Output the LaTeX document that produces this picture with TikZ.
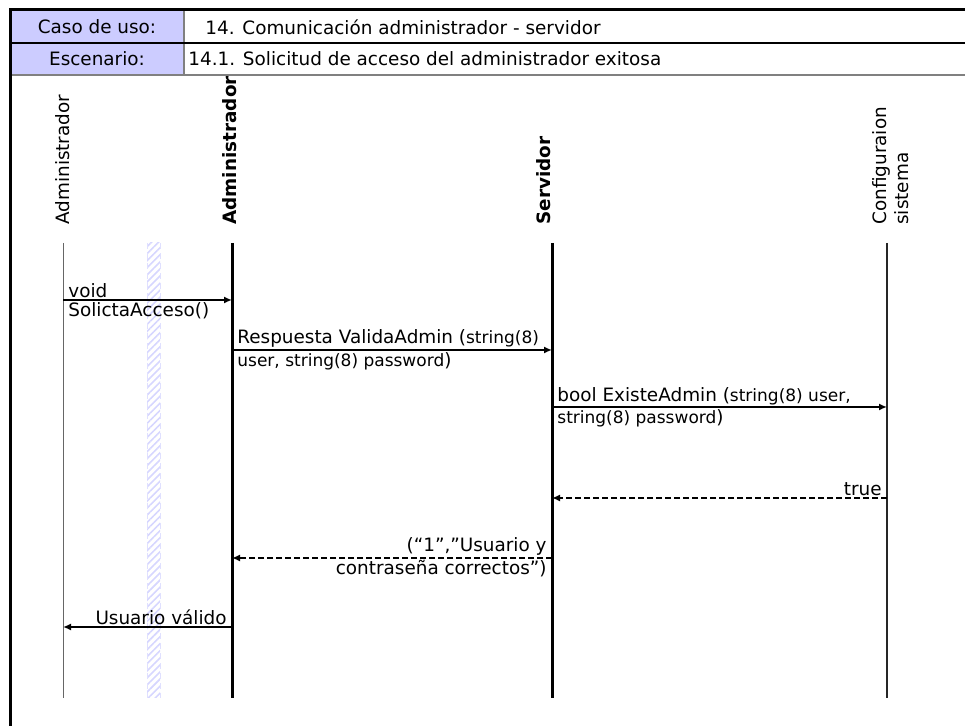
\documentclass[tikz,border=0pt]{standalone}
\usepackage{fontspec}
\setmainfont{DejaVu Sans}
\usetikzlibrary{arrows.meta,positioning,calc,patterns.meta}
\definecolor{lila}{HTML}{CCCCFF}
\newcommand{\prm}[1]{{\fontsize{8.5}{10}\selectfont #1}}

\begin{document}
\begin{tikzpicture}[x=0.5pt,y=-0.5pt,font=\fontsize{9.2}{11}\selectfont,
  msg/.style={line width=1pt,-{Latex[length=4pt,width=3.5pt]}},
  ret/.style={msg,dash pattern=on 3pt off 1.5pt},
  lbl/.style={inner xsep=2.5pt,inner ysep=1pt},
  cab/.style={rotate=90,anchor=west,inner sep=0pt}]
\useasboundingbox (0,0) rectangle (965,726);

% cabecera
\fill[lila] (11,11) rectangle (184,75);
\draw[gray,line width=0.6pt] (184,11) -- (184,75);
\draw[line width=0.6pt] (11,43) -- (980,43);
\draw[gray,line width=0.6pt] (11,75) -- (980,75);
\draw[line width=1.5pt] (10,740) -- (10,10) -- (980,10);
\node (caso) at (97,27) {Caso de uso:};
\node (esc) at (97,59) {Escenario:};
\node[anchor=west,inner sep=0pt] (casoT) at (205,27) {14. Comunicación administrador - servidor};
\node[anchor=west,inner sep=0pt] (escT) at (188,59) {14.1. Solicitud de acceso del administrador exitosa};

% lineas de vida
\coordinate (a0) at (63,243);  \coordinate (a1) at (63,698);
\coordinate (b0) at (232,243); \coordinate (b1) at (232,698);
\coordinate (s0) at (552,243); \coordinate (s1) at (552,698);
\coordinate (c0) at (887,243); \coordinate (c1) at (887,698);

\fill[pattern={Lines[angle=45,distance=2.5pt,line width=0.8pt]},pattern color=lila!80] (147,243) rectangle (160,698);
\draw[lila!60,densely dashed,line width=0.4pt] (147,243) -- (147,698) (160,243) -- (160,698);

\draw[gray!80!black,line width=0.5pt] (a0) -- (a1);
\draw[line width=1.5pt] (b0) -- (b1);
\draw[line width=1.5pt] (s0) -- (s1);
\draw[black!85,line width=1pt] (c0) -- (c1);

\node[cab] (admA) at (63,225) {Administrador};
\node[cab] (admB) at (230,225) {\bfseries Administrador};
\node[cab] (serv) at (544,225) {\bfseries Servidor};
\node[cab,align=left] (conf) at (891,225) {Configuraion\\sistema};

% mensajes
\coordinate (y1) at (0,300);
\coordinate (y2) at (0,350);
\coordinate (y3) at (0,407);
\coordinate (y4) at (0,498);
\coordinate (y5) at (0,558);
\coordinate (y6) at (0,627);

\draw[msg] (a0 |- y1) -- (b0 |- y1);
\node[lbl,above right] (m1a) at (a0 |- y1) {void};
\node[lbl,below right] (m1b) at (a0 |- y1) {SolictaAcceso()};

\draw[msg] (b0 |- y2) -- (s0 |- y2);
\node[lbl,above right] (m2a) at (b0 |- y2) {Respuesta ValidaAdmin (\prm{string(8)}};
\node[lbl,below right] (m2b) at (b0 |- y2) {\prm{user, string(8) password})};

\draw[msg] (s0 |- y3) -- (c0 |- y3);
\node[lbl,above right] (m3a) at (s0 |- y3) {bool ExisteAdmin (\prm{string(8) user,}};
\node[lbl,below right] (m3b) at (s0 |- y3) {\prm{string(8) password})};

\draw[ret] (c0 |- y4) -- (s0 |- y4);
\node[lbl,above left] (m4) at (c0 |- y4) {true};

\draw[ret] (s0 |- y5) -- (b0 |- y5);
\node[lbl,above left] (m5a) at (s0 |- y5) {(“1”,”Usuario y};
\node[lbl,below left] (m5b) at (s0 |- y5) {contraseña correctos”)};

\draw[msg] (b0 |- y6) -- (a0 |- y6);
\node[lbl,above left] (m6) at (b0 |- y6) {Usuario válido};
\end{tikzpicture}
\end{document}
